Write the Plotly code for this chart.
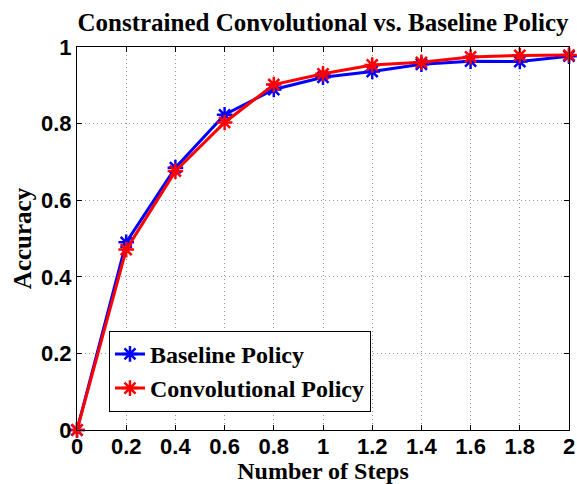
import plotly.graph_objects as go

steps = [0, 0.2, 0.4, 0.6, 0.8, 1.0, 1.2, 1.4, 1.6, 1.8, 2.0]
baseline_acc = [0.0, 0.490, 0.685, 0.823, 0.889, 0.921, 0.936, 0.955, 0.963, 0.962, 0.976]
conv_acc = [0.0, 0.471, 0.676, 0.803, 0.902, 0.930, 0.953, 0.960, 0.974, 0.978, 0.979]
x_ticks = [0, 0.2, 0.4, 0.6, 0.8, 1, 1.2, 1.4, 1.6, 1.8, 2]
y_ticks = [0, 0.2, 0.4, 0.6, 0.8, 1]

serif = "Liberation Serif"
sans = "Liberation Sans"

fig = go.Figure()
for name, vals, color in [("Baseline Policy", baseline_acc, "#0000ff"),
                          ("Convolutional Policy", conv_acc, "#ff0000")]:
    fig.add_trace(go.Scatter(
        x=steps, y=vals, name=name, mode="lines+markers",
        line=dict(color=color, width=3),
        marker=dict(symbol="asterisk-open", size=13,
                    line=dict(color=color, width=2.5)),
        cliponaxis=False,
    ))

axis_common = dict(
    showline=True, linecolor="black", linewidth=1.2, mirror="ticks",
    ticks="inside", ticklen=5, tickcolor="black",
    showgrid=True, gridcolor="#9a9a9a", griddash="1px,3px", gridwidth=1,
    zeroline=False, automargin=False,
    tickfont=dict(family=sans, size=22, color="black", weight="bold"),
)

fig.update_layout(
    width=577, height=484,
    margin=dict(l=77, r=8, t=47, b=54, autoexpand=False),
    paper_bgcolor="white", plot_bgcolor="white",
    title=dict(text="Constrained Convolutional vs. Baseline Policy",
               xref="paper", x=0.5, xanchor="center",
               yref="container", y=0.955, yanchor="middle",
               font=dict(family=serif, size=25, color="black", weight="bold")),
    xaxis=dict(axis_common, range=[0, 2], tickvals=x_ticks,
               ticktext=[f"{v:g}" for v in x_ticks], ticklabelstandoff=-4,
               title=dict(text="Number of Steps", standoff=5,
                          font=dict(family=serif, size=24, color="black", weight="bold"))),
    yaxis=dict(axis_common, range=[0, 1], tickvals=y_ticks,
               ticktext=[f"{v:g}" for v in y_ticks], ticklabelstandoff=0,
               title=dict(text="Accuracy", standoff=2,
                          font=dict(family=serif, size=25, color="black", weight="bold"))),
    legend=dict(x=0.065, y=0.259, xanchor="left", yanchor="top",
                bgcolor="white", bordercolor="black", borderwidth=1,
                font=dict(family=serif, size=24, color="black", weight="bold"),
                itemwidth=30, tracegroupgap=0),
    showlegend=True,
)

fig.write_html("out.html")
